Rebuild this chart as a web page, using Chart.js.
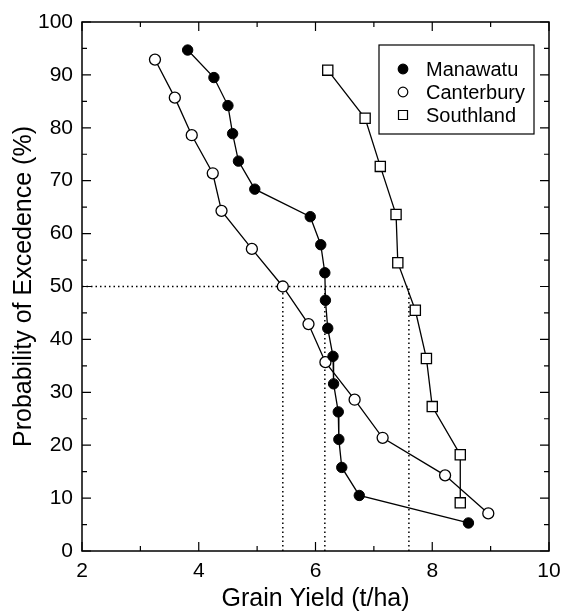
<!DOCTYPE html>
<html>
<head>
<meta charset="utf-8">
<script src="https://cdn.jsdelivr.net/npm/chart.js@4/dist/chart.umd.min.js"></script>
<style>
  html, body { margin: 0; padding: 0; background: #fff; }
</style>
</head>
<body>
<canvas id="yieldChart" width="562" height="612"></canvas>
<script>
// values
const manawatuYield = [3.81, 4.26, 4.50, 4.58, 4.68, 4.96, 5.91, 6.09, 6.16, 6.17, 6.21, 6.30, 6.31, 6.39, 6.40, 6.45, 6.75, 8.62];
const manawatuProb  = [94.7, 89.5, 84.2, 78.9, 73.7, 68.4, 63.2, 57.9, 52.6, 47.4, 42.1, 36.8, 31.6, 26.3, 21.1, 15.8, 10.5, 5.3];

const canterburyYield = [3.25, 3.59, 3.88, 4.24, 4.39, 4.91, 5.44, 5.88, 6.17, 6.67, 7.15, 8.22, 8.96];
const canterburyProb  = [92.9, 85.7, 78.6, 71.4, 64.3, 57.1, 50.0, 42.9, 35.7, 28.6, 21.4, 14.3, 7.1];

const southlandYield = [6.21, 6.85, 7.11, 7.38, 7.41, 7.71, 7.90, 8.00, 8.48, 8.48];
const southlandProb  = [90.9, 81.8, 72.7, 63.6, 54.5, 45.5, 36.4, 27.3, 18.2, 9.1];

// medians (dotted guides at 50 %)
const medianYield = [5.44, 6.16, 7.60];
const medianProb = 50;

const xMajorTicks = [2, 4, 6, 8, 10];
const xMinorTicks = [3, 5, 7, 9];
const yMajorTicks = [0, 10, 20, 30, 40, 50, 60, 70, 80, 90, 100];
const yMinorTicks = [5, 15, 25, 35, 45, 55, 65, 75, 85, 95];

const legendNames = ['Manawatu', 'Canterbury', 'Southland'];

const FONT = '"Liberation Sans", Arial, Helvetica, sans-serif';

function pts(xs, ys) {
  return xs.map((v, i) => ({ x: v, y: ys[i] }));
}

const dotted = {
  borderColor: '#000',
  borderWidth: 1.5,
  borderDash: [1.5, 3],
  pointRadius: 0,
  showLine: true,
  fill: false
};

const datasets = [
  {
    label: legendNames[0],
    data: pts(manawatuYield, manawatuProb),
    showLine: true,
    borderColor: '#000',
    borderWidth: 1.3,
    pointStyle: 'circle',
    pointRadius: 5.2,
    pointBackgroundColor: '#000',
    pointBorderColor: '#000',
    pointBorderWidth: 1
  },
  {
    label: legendNames[1],
    data: pts(canterburyYield, canterburyProb),
    showLine: true,
    borderColor: '#000',
    borderWidth: 1.3,
    pointStyle: 'circle',
    pointRadius: 5.5,
    pointBackgroundColor: '#fff',
    pointBorderColor: '#000',
    pointBorderWidth: 1.3
  },
  {
    label: legendNames[2],
    data: pts(southlandYield, southlandProb),
    showLine: true,
    borderColor: '#000',
    borderWidth: 1.3,
    pointStyle: 'rect',
    pointRadius: 7.2,
    pointBackgroundColor: '#fff',
    pointBorderColor: '#000',
    pointBorderWidth: 1.3
  },
  Object.assign({ label: 'median', data: [{ x: xMajorTicks[0], y: medianProb }, { x: medianYield[2], y: medianProb }] }, dotted)
];
medianYield.forEach(m => {
  datasets.push(Object.assign({ label: 'median', data: [{ x: m, y: 0 }, { x: m, y: medianProb }] }, dotted));
});

// frame with inward ticks + boxed legend
const frameAndLegend = {
  id: 'frameAndLegend',
  afterDatasetsDraw(chart) {
    const { ctx, chartArea: a, scales: { x, y } } = chart;
    ctx.save();
    ctx.strokeStyle = '#000';
    ctx.lineWidth = 1.5;
    ctx.strokeRect(a.left, a.top, a.right - a.left, a.bottom - a.top);

    ctx.lineWidth = 1.2;
    ctx.beginPath();
    const xt = (vals, len) => vals.forEach(v => {
      const px = x.getPixelForValue(v);
      ctx.moveTo(px, a.bottom); ctx.lineTo(px, a.bottom - len);
      ctx.moveTo(px, a.top); ctx.lineTo(px, a.top + len);
    });
    const yt = (vals, len) => vals.forEach(v => {
      const py = y.getPixelForValue(v);
      ctx.moveTo(a.left, py); ctx.lineTo(a.left + len, py);
      ctx.moveTo(a.right, py); ctx.lineTo(a.right - len, py);
    });
    xt(xMajorTicks, 9); xt(xMinorTicks, 5);
    yt(yMajorTicks, 9); yt(yMinorTicks, 5);
    ctx.stroke();

    // legend box
    const bw = 155, bh = 89;
    const bx = a.right - 15 - bw, by = a.top + 23;
    ctx.fillStyle = '#fff';
    ctx.fillRect(bx, by, bw, bh);
    ctx.lineWidth = 1.2;
    ctx.strokeRect(bx, by, bw, bh);

    ctx.font = '20px ' + FONT;
    ctx.textBaseline = 'middle';
    ctx.textAlign = 'left';
    legendNames.forEach((name, i) => {
      const cy = by + 24 + i * 23;
      const mx = bx + 24;
      ctx.beginPath();
      if (i === 2) {
        ctx.rect(mx - 4.5, cy - 4.5, 9, 9);
        ctx.fillStyle = '#fff';
        ctx.fill();
      } else {
        ctx.arc(mx, cy, 4.8, 0, Math.PI * 2);
        ctx.fillStyle = i === 0 ? '#000' : '#fff';
        ctx.fill();
      }
      ctx.lineWidth = 1.2;
      ctx.stroke();
      ctx.fillStyle = '#000';
      ctx.fillText(name, bx + 47, cy + 1);
    });
    ctx.restore();
  }
};

const ctx = document.getElementById('yieldChart').getContext('2d');
const chart = new Chart(ctx, {
  type: 'scatter',
  data: { datasets: datasets },
  options: {
    responsive: false,
    animation: false,
    layout: { padding: { top: 22, right: 13, left: 0, bottom: 0 } },
    plugins: {
      legend: { display: false },
      tooltip: { enabled: false }
    },
    scales: {
      x: {
        type: 'linear',
        min: 2,
        max: 10,
        // fixed axis height, no extra room for the "10" label overflow
        afterFit: s => { s.height = 61; s.paddingRight = 0; s.paddingLeft = 0; },
        grid: { display: false, drawTicks: false },
        border: { display: false },
        ticks: {
          stepSize: 2,
          padding: 8,
          color: '#000',
          font: { family: FONT, size: 21 }
        },
        title: {
          display: true,
          text: 'Grain Yield (t/ha)',
          color: '#000',
          font: { family: FONT, size: 25, lineHeight: 1 },
          padding: { top: 0, bottom: 0 }
        }
      },
      y: {
        type: 'linear',
        min: 0,
        max: 100,
        afterFit: s => { s.width = 82; },
        grid: { display: false, drawTicks: false },
        border: { display: false },
        ticks: {
          stepSize: 10,
          padding: 9,
          color: '#000',
          font: { family: FONT, size: 21 }
        },
        title: {
          display: true,
          text: 'Probability of Excedence (%)',
          color: '#000',
          font: { family: FONT, size: 25, lineHeight: 1 },
          padding: { top: 12, bottom: 0 }
        }
      }
    }
  },
  plugins: [frameAndLegend]
});
</script>
</body>
</html>
